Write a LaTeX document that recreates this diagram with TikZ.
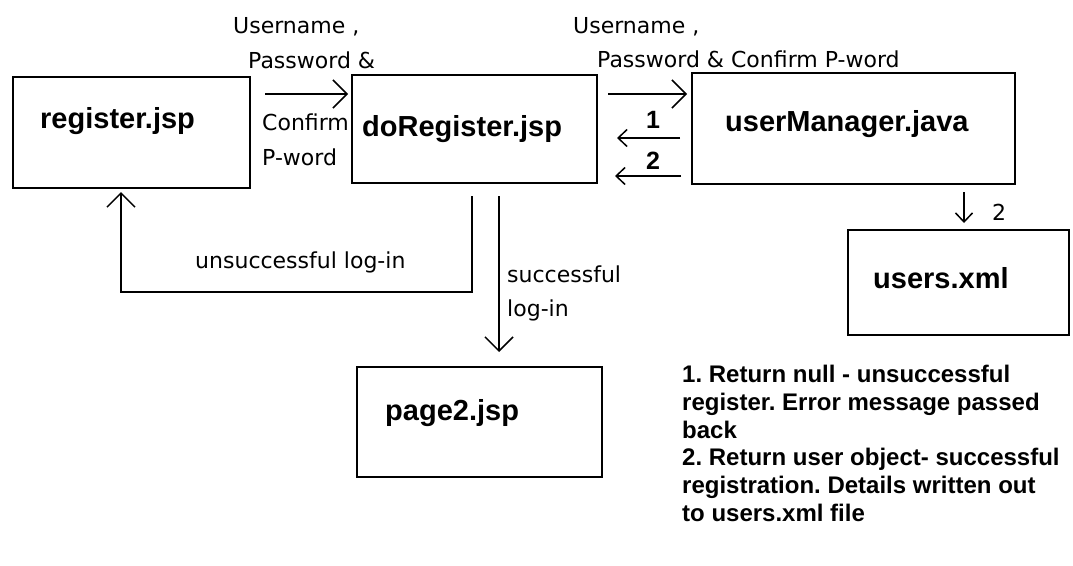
\documentclass[tikz,border=0pt]{standalone}
\usepackage{fontspec}
\usetikzlibrary{arrows.meta,calc}
\newfontfamily\labelfam{DejaVu Sans}
\newfontfamily\headfam{Liberation Sans}
\frenchspacing
\begin{document}
\begin{tikzpicture}[x=1pt,y=-1pt,
  box/.style={draw, line width=1.6pt, inner sep=0pt, outer sep=0pt},
  title/.style={font=\headfam\bfseries\fontsize{29}{33}\selectfont, anchor=base west, inner sep=0pt},
  lab/.style={font=\labelfam\fontsize{22}{26}\selectfont, anchor=base west, inner sep=0pt},
  num/.style={font=\headfam\bfseries\fontsize{25}{28}\selectfont, anchor=base, inner sep=0pt},
  flow/.style={line width=1.5pt, -{Straight Barb[length=14pt,width=28pt]}},
  back/.style={line width=1.5pt, -{Straight Barb[length=9pt,width=17pt]}},
]
\useasboundingbox (0,0) rectangle (1073,565);

% component boxes
\node[box, minimum width=237pt, minimum height=111pt] (reg)   at (131.5,132.5) {};
\node[box, minimum width=245pt, minimum height=108pt] (doreg) at (474.5,129) {};
\node[box, minimum width=323pt, minimum height=111pt] (um)    at (853.5,128.5) {};
\node[box, minimum width=221pt, minimum height=105pt] (users) at (958.5,282.5) {};
\node[box, minimum width=245pt, minimum height=110pt] (page2) at (479.5,422) {};

% box titles
\node[title] (regT)   at (40,128)  {register.jsp};
\node[title] (doregT) at (362,136) {doRegister.jsp};
\node[title] (umT)    at (725,131) {userManager.java};
\node[title] (usersT) at (873,288) {users.xml};
\node[title] (page2T) at (385,420) {page2.jsp};

% form data sent to doRegister.jsp
\draw[flow] ($(reg.east)+(15,-38.5)$) -- ($(doreg.west)+(-4,-35)$);
\node[lab] (in1) at (233,33)  {Username ,};
\node[lab] (in2) at (248,68)  {Password \&};
\node[lab] (in3) at (262,130) {Confirm};
\node[lab] (in4) at (262,165) {P-word};

% data passed on to userManager.java
\draw[flow] ($(doreg.east)+(11,-35)$) -- ($(um.west)+(-5,-34.5)$);
\node[lab] (fw1) at (573,33) {Username ,};
\node[lab] (fw2) at (597,67) {Password \& Confirm P-word};

% return values
\draw[back] ($(um.west)+(-12,9.5)$) -- ($(doreg.east)+(20,9)$);
\draw[back] ($(um.west)+(-11,47.5)$) -- ($(doreg.east)+(18,47)$);
\node[num] (r1) at (653,128) {1};
\node[num] (r2) at (653,169) {2};

% write-out to users.xml
\draw[back] ($(um.south)+(110.5,8)$) -- ($(users.north)+(5.5,-7)$);
\node[lab] (w2) at (992,220) {2};

% unsuccessful branch back to register.jsp
\draw[flow] ($(doreg.south)+(-2.5,13)$) -- ++(0,96) -| ($(reg.south)+(-10.5,4)$);
\node[lab] (fail) at (195,268) {unsuccessful log-in};

% successful branch to page2.jsp
\draw[flow] ($(doreg.south)+(24.5,13)$) -- ($(page2.north)+(19.5,-15)$);
\node[lab] (ok1) at (507,282) {successful};
\node[lab] (ok2) at (507,316) {log-in};

% legend
\node[anchor=north west, inner sep=0pt, align=left,
      font=\headfam\bfseries\fontsize{24}{27.8}\selectfont] (legend) at (682,365)
  {1. Return null - unsuccessful\\
   register. Error message passed\\
   back\\
   2. Return user object- successful\\
   registration. Details written out\\
   to users.xml file};
\end{tikzpicture}
\end{document}
